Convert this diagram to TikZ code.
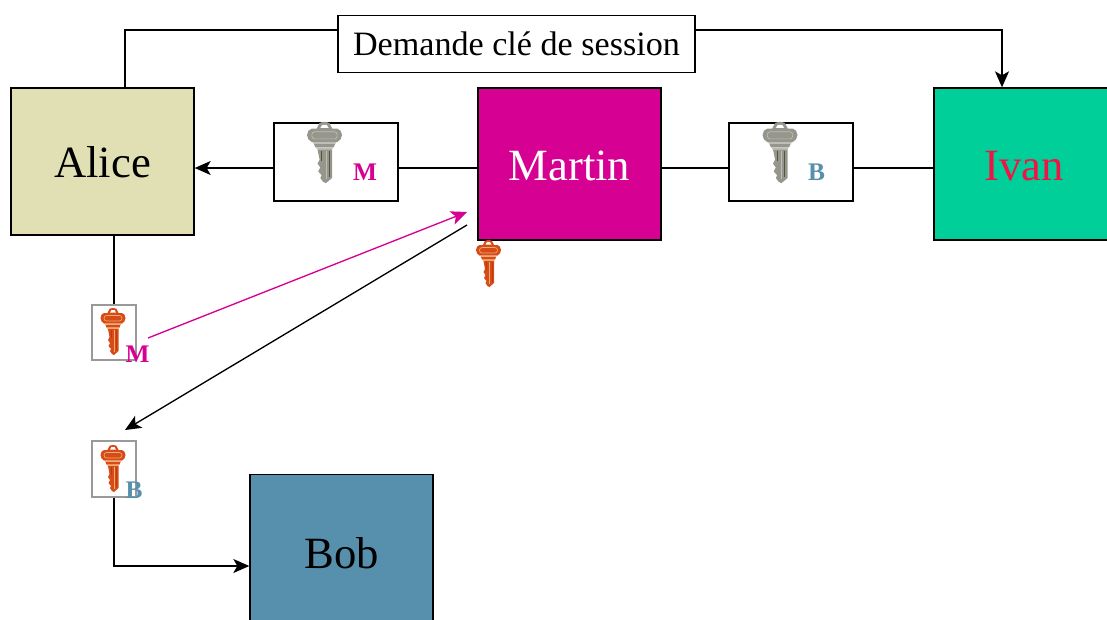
\documentclass[tikz,border=0pt]{standalone}
\usepackage{fontspec}
\setmainfont{Liberation Serif}
\usetikzlibrary{arrows.meta}
\definecolor{alicecol}{RGB}{224,224,180}
\definecolor{martincol}{RGB}{214,0,147}
\definecolor{ivancol}{RGB}{0,207,153}
\definecolor{bobcol}{RGB}{86,144,172}
\definecolor{ivantext}{RGB}{240,20,70}
\definecolor{keyorangemain}{RGB}{214,76,24}
\definecolor{keyorangedark}{RGB}{190,58,14}
\definecolor{keyorangelight}{RGB}{245,170,110}
\definecolor{keygreymain}{RGB}{150,150,140}
\definecolor{keygreydark}{RGB}{84,84,60}
\definecolor{keygreylight}{RGB}{190,190,185}
\tikzset{
  person/.style={draw,line width=1pt,inner sep=0pt,minimum width=137.25pt,text height=25pt,font=\fontsize{33.5}{33.5}\selectfont},
  keybox/.style={draw,fill=white,line width=1pt,inner sep=0pt,minimum width=93pt,minimum height=58.5pt},
  certbox/.style={draw=black!40,fill=white,line width=1.3pt,inner sep=0pt,minimum width=33pt,minimum height=41.5pt},
  keylabel/.style={inner sep=0pt,font=\fontsize{19}{19}\selectfont\bfseries},
  link/.style={line width=1pt},
  tip/.style={-{Stealth[length=12pt,width=10.5pt,inset=3pt]}},
  keyicon/.pic={
    % boucle
    \fill[key#1main] (-6,6) -- (-3.5,.8) .. controls (-1,-.4) and (1,-.4) .. (3.5,.8) -- (6,6) -- cycle;
    \fill[white] (-3,4.6) -- (-1.6,2.2) -- (1.6,2.2) -- (3,4.6) -- cycle;
    % tete
    \fill[key#1main] (-9,5) -- (9,5) .. controls (11,5.5) and (12.5,7.5) .. (12.5,10)
      .. controls (12.5,12.5) and (11,14.5) .. (9,15.5) -- (-9,15.5)
      .. controls (-11,14.5) and (-12.5,12.5) .. (-12.5,10)
      .. controls (-12.5,7.5) and (-11,5.5) .. (-9,5) -- cycle;
    \draw[key#1light,line width=.5pt,rounded corners=2pt] (-9,7.5) rectangle (9,13);
    % epaulement
    \fill[key#1light] (-8.5,15.5) -- (8.5,15.5) -- (7.5,17) -- (-7.5,17) -- cycle;
    \fill[key#1main] (-7.5,17) -- (7.5,17) -- (6.5,19.5) -- (-6.5,19.5) -- cycle;
    \fill[key#1light] (-6,19.5) -- (6,19.5) -- (5.5,21) -- (-5.5,21) -- cycle;
    % lame
    \fill[key#1main] (-5,21) -- (5.5,21) -- (5.5,43) -- (1,47) -- (-1,46)
      -- (-3,43) -- (-2,41) -- (-4.5,38) -- (-3,35) -- (-5,32) -- (-3.5,29) -- cycle;
    \draw[key#1dark,line width=.6pt] (-2,22) -- (-2,30);
    \draw[key#1light,line width=.6pt] (1.2,22) -- (1.2,44);
    \draw[key#1dark,line width=.6pt] (3.4,22) -- (3.4,42);
  }
}
\begin{document}
\begin{tikzpicture}[x=.75pt,y=-.75pt]
    \useasboundingbox (0,0) rectangle (1107,619);
    \clip (0,0) rectangle (1107,619);

    \node[person,fill=alicecol,minimum height=110.25pt] (alice) at (102.5,161.5) {Alice};
    \node[person,fill=martincol,text=white,minimum height=114pt] (martin) at (569.5,164) {Martin};
    \node[person,fill=ivancol,text=ivantext,minimum width=135pt,minimum height=114pt] (ivan) at (1024,164) {Ivan};
    \node[person,fill=bobcol,minimum height=116pt] (bob) at (341.5,552) {Bob};

    \node[draw,fill=white,line width=1pt,inner sep=0pt,minimum width=267.75pt,minimum height=42.75pt,font=\fontsize{25.6}{25.6}\selectfont] (demande) at (516.5,44) {Demande clé de session};

    \node[keybox] (keym) at (336,162) {};
    \node[keybox] (keyb) at (791,162) {};
    \node[certbox] (certm) at (114,332.5) {};
    \node[certbox] (certb) at (114,469) {};

    \pic[xscale=1.4,yscale=1.3] at (324.5,122) {keyicon=grey};
    \pic[xscale=1.4,yscale=1.3] at (780,122) {keyicon=grey};
    \pic at (113,308) {keyicon=orange};
    \pic at (113,445) {keyicon=orange};
    \pic at (488.5,240) {keyicon=orange};

    \node[keylabel,text=martincol] (labelkeym) at (365,172.5) {M};
    \node[keylabel,text=bobcol] (labelkeyb) at (816.5,172.5) {B};
    \node[keylabel,text=martincol] (labelcertm) at (137.5,354.5) {M};
    \node[keylabel,text=bobcol] (labelcertb) at (134,490.5) {B};

    \coordinate (topline) at (0,30);
    \coordinate (midline) at (0,168);
    \coordinate (bobline) at (0,566);
    \coordinate (aliceup) at (125,0);
    \coordinate (ivandown) at (1002,0);
    \coordinate (pinkstart) at (148,338);
    \coordinate (pinkend) at (467,212);
    \coordinate (blackstart) at (467,225);
    \coordinate (blackend) at (125,430);

    \draw[link] (aliceup |- alice.north)--(aliceup |- topline)--(demande.west |- topline);
    \draw[link,tip] (demande.east |- topline)--(ivandown |- topline)--(ivandown |- ivan.north);
    \draw[link,tip] (keym.west |- midline)--(alice.east |- midline);
    \draw[link] (martin.west |- midline)--(keym.east |- midline)
          (martin.east |- midline)--(keyb.west |- midline)
          (keyb.east |- midline)--(ivan.west |- midline)
          (alice.south -| certm)--(certm.north);
    \draw[link,martincol,tip] (pinkstart)--(pinkend);
    \draw[link,tip] (blackstart)--(blackend);
    \draw[link,tip] (certb.south)--(certb.south |- bobline)--(bob.west |- bobline);

  \end{tikzpicture}
\end{document}
